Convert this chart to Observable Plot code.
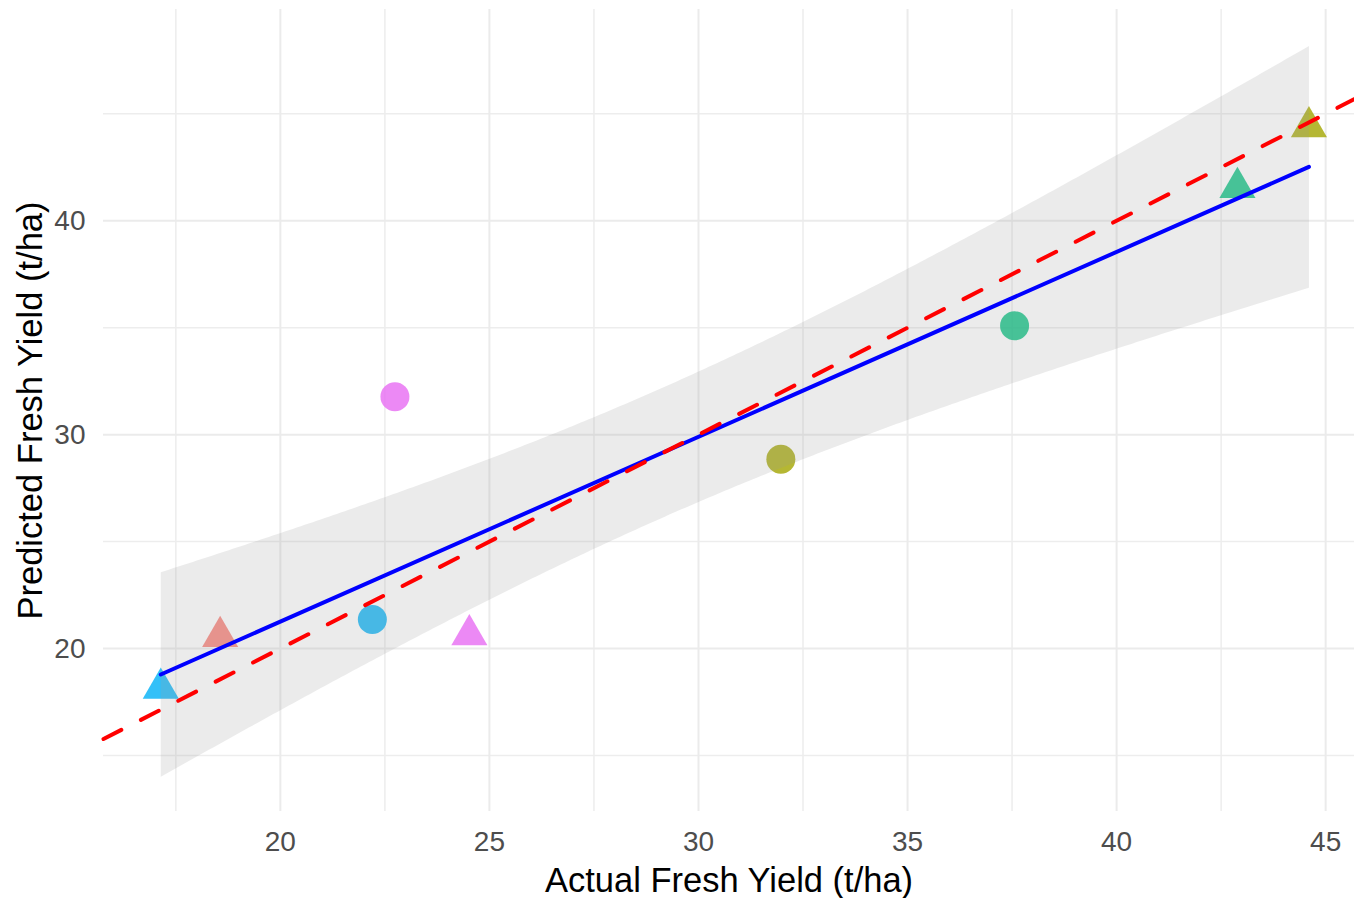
<!DOCTYPE html>
<html><head><meta charset="utf-8">
<script src="https://cdn.jsdelivr.net/npm/d3@7"></script>
<script src="https://cdn.jsdelivr.net/npm/@observablehq/plot@0.6"></script>
<style>html,body{margin:0;padding:0;background:#fff;}</style>
</head><body><div id="chart"></div>
<script>
// ---- data ----
const groups = ["A", "B", "C", "D", "E"];
const groupColors = ["#F8766D", "#A3A500", "#00BF7D", "#00B0F6", "#E76BF3"];
const pointGroup = ["D", "A", "D", "E", "E", "B", "C", "C", "B"];
const pointShape = ["triangle", "triangle", "circle", "circle", "triangle", "circle", "circle", "triangle", "triangle"];
const actual =    [17.14, 18.56, 22.20, 22.74, 24.52, 31.97, 37.56, 42.89, 44.60];
const predicted = [18.14, 20.56, 21.36, 31.77, 20.64, 28.85, 35.09, 41.55, 44.39];
const xMajor = [20, 25, 30, 35, 40, 45];
const xMinor = [17.5, 22.5, 27.5, 32.5, 37.5, 42.5];
const yMajor = [20, 30, 40];
const yMinor = [15, 25, 35, 45];
const xDomain = [15.77, 45.69];
const yDomain = [12.38, 49.88];
const identityRange = [15.77, 45.69];
const xTitle = "Actual Fresh Yield (t/ha)";
const yTitle = "Predicted Fresh Yield (t/ha)";

const points = actual.map((a, i) => ({actual: a, predicted: predicted[i], group: pointGroup[i], shape: pointShape[i]}));
const identity = identityRange.map(v => ({x: v, y: v}));

const chart = Plot.plot({
  width: 1354,
  height: 898,
  marginLeft: 103,
  marginRight: 0,
  marginTop: 9,
  marginBottom: 87,
  x: {domain: xDomain},
  y: {domain: yDomain},
  color: {domain: groups, range: groupColors},
  style: {fontFamily: "'Liberation Sans', Arial, sans-serif", background: "white", overflow: "visible"},
  marks: [
    Plot.ruleX(xMinor, {stroke: "#EDEDED", strokeWidth: 1.5}),
    Plot.ruleY(yMinor, {stroke: "#EDEDED", strokeWidth: 1.5}),
    Plot.ruleX(xMajor, {stroke: "#EBEBEB", strokeWidth: 2}),
    Plot.ruleY(yMajor, {stroke: "#EBEBEB", strokeWidth: 2}),
    Plot.dot(points.filter(d => d.shape === "circle"), {x: "actual", y: "predicted", fill: "group", r: 14.5, symbol: "circle", fillOpacity: 0.8, stroke: "none"}),
    Plot.dot(points.filter(d => d.shape === "triangle"), {x: "actual", y: "predicted", fill: "group", r: 13.4, symbol: "triangle", fillOpacity: 0.8, stroke: "none"}),
    Plot.linearRegressionY(points, {x: "actual", y: "predicted", stroke: "#0000FF", strokeWidth: 4, fill: "#999999", fillOpacity: 0.2, ci: 0.95}),
    Plot.line(identity, {x: "x", y: "y", stroke: "#FF0000", strokeWidth: 4, strokeDasharray: "20,22"}),
    Plot.axisX(xMajor, {tickSize: 0, tickPadding: 20, fontSize: 28, color: "#4D4D4D", label: null}),
    Plot.axisY(yMajor, {tickSize: 0, tickPadding: 18, fontSize: 28, color: "#4D4D4D", label: null}),
    Plot.text([xTitle], {text: d => d, frameAnchor: "bottom", lineAnchor: "middle", textAnchor: "middle", dy: 69, fontSize: 34.5, fill: "#000"}),
    Plot.text([yTitle], {text: d => d, frameAnchor: "left", lineAnchor: "middle", textAnchor: "middle", dx: -73, rotate: -90, fontSize: 34.5, fill: "#000"})
  ]
});
document.getElementById("chart").appendChild(chart);
</script>
</body></html>
